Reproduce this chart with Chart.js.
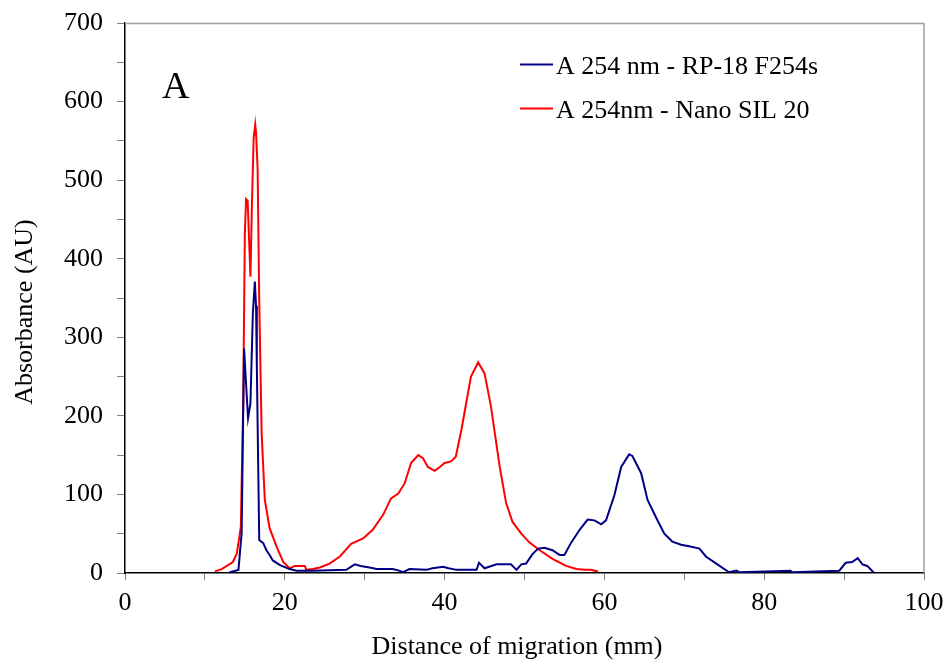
<!DOCTYPE html>
<html>
<head>
<meta charset="utf-8">
<script src="https://cdn.jsdelivr.net/npm/chart.js@4.4.1/dist/chart.umd.min.js"></script>
<style>
html,body{margin:0;padding:0;background:#fff;}
#wrap{width:947px;height:663px;position:relative;}
</style>
</head>
<body>
<div id="wrap"><canvas id="c" width="947" height="663"></canvas></div>
<script>
// ---- data ----
const seriesLabels = ['A 254 nm - RP-18 F254s', 'A 254nm - Nano SIL 20'];
const seriesColors = ['#000085', '#ff0000'];

const blueX = [13.1,14.2,14.6,14.9,15.4,15.7,16.0,16.25,16.4,16.5,16.8,17.3,17.7,18.1,18.5,19.4,20.6,21.5,23.5,27.7,28.75,29.5,30.6,31.5,33.5,34.3,34.8,35.6,37.7,38.5,39.8,40.5,41.5,44,44.3,45,46.5,48.3,49,49.6,50.2,51,51.7,52.5,53.5,54.4,55,55.8,56.9,57.9,58.75,59.6,60.2,61.25,62.1,63.1,63.5,64.6,65.4,66.5,67.5,68.5,69.6,70.6,71.9,72.7,74,75.6,76.5,76.9,83.3,83.5,89.4,90.2,91,91.7,92.3,92.9,93.75];
const blueY = [1,4,51,286,197,216,330,371,340,263,42,38,29,23,16,10,5,3,3,4,11,9,7,5,5,3,1,5,4,6,8,6,4,4,13,6,11,11,4,11,12,24,31,32,29,23,23,38,55,68,67,62,67,99,135,151,149,127,93,70,50,40,36,34,31,21,12,1,3,1,3,1,3,13,14,19,11,9,0];

const redX = [11.25,12.1,12.9,13.5,14.0,14.5,14.8,15.0,15.15,15.35,15.7,15.9,16.1,16.3,16.4,16.6,16.8,17.1,17.5,18.1,19.0,19.8,20.6,21.25,22.5,22.7,23.5,24.4,25.6,26.9,28.3,29.8,31.0,32.3,33.3,34.2,35.0,35.8,36.7,37.3,37.9,38.75,39.4,40.0,40.8,41.4,42.1,42.7,43.3,44.2,45.0,45.8,46.9,47.7,48.5,49.6,50.6,51.9,53.5,55.2,56.5,57.5,58.3,59.2];
const redY = [2,5,10,14,25,59,220,432,476,474,377,475,553,571,561,514,347,178,93,57,33,14,6,9,9,4,5,7,12,21,37,44,55,74,95,101,114,140,150,146,135,130,135,140,142,148,182,216,250,268,254,212,135,89,65,50,39,29,18,9,5,4,4,2];

const xTickLabels = ['0','20','40','60','80','100'];
const yTickLabels = ['0','100','200','300','400','500','600','700'];
const xTitle = 'Distance of migration (mm)';
const yTitle = 'Absorbance (AU)';
const panelLabel = 'A';

// ---- chart ----
const FONT = "'Liberation Serif', 'Times New Roman', serif";
const toPts = (xs, ys) => xs.map((x, i) => ({x: x, y: ys[i]}));

const overlay = {
  id: 'overlay',
  afterDraw(chart) {
    const ctx = chart.ctx, ca = chart.chartArea;
    ctx.save();
    // top & right frame
    ctx.strokeStyle = '#a0a0a0';
    ctx.lineWidth = 1.5;
    ctx.beginPath();
    ctx.moveTo(ca.left, ca.top + 0.5);
    ctx.lineTo(ca.right, ca.top + 0.5);
    ctx.lineTo(ca.right, ca.bottom);
    ctx.stroke();
    // legend
    ctx.font = '26px ' + FONT;
    ctx.textAlign = 'left';
    ctx.textBaseline = 'alphabetic';
    chart.data.datasets.forEach((ds, i) => {
      const ly = 64.5 + i * 44;
      ctx.strokeStyle = ds.borderColor;
      ctx.lineWidth = 2;
      ctx.beginPath();
      ctx.moveTo(520, ly);
      ctx.lineTo(553, ly);
      ctx.stroke();
      ctx.fillStyle = '#000';
      ctx.fillText(ds.label, 556, ly + 9);
    });
    // panel label
    ctx.font = '38px ' + FONT;
    ctx.fillText(panelLabel, 162, 97.5);
    // axis titles
    ctx.font = '26px ' + FONT;
    ctx.textAlign = 'center';
    ctx.textBaseline = 'middle';
    ctx.fillText(xTitle, 517, 647);
    ctx.translate(25, 312);
    ctx.rotate(-Math.PI / 2);
    ctx.fillText(yTitle, 0, 0);
    ctx.restore();
  }
};

new Chart(document.getElementById('c'), {
  type: 'scatter',
  data: {
    datasets: [
      {label: seriesLabels[0], data: toPts(blueX, blueY), showLine: true, borderColor: seriesColors[0], backgroundColor: seriesColors[0], borderWidth: 2, pointRadius: 0, tension: 0},
      {label: seriesLabels[1], data: toPts(redX, redY), showLine: true, borderColor: seriesColors[1], backgroundColor: seriesColors[1], borderWidth: 2, pointRadius: 0, tension: 0}
    ]
  },
  options: {
    responsive: false,
    animation: false,
    devicePixelRatio: 1,
    layout: {padding: {top: 23, right: 23, left: 0, bottom: 0}},
    plugins: {legend: {display: false}, tooltip: {enabled: false}},
    scales: {
      x: {
        type: 'linear', min: 0, max: 100,
        afterFit(s) { s.height = 90; s.paddingLeft = 0; s.paddingRight = 0; },
        ticks: {
          stepSize: 10, autoSkip: false, maxRotation: 0, padding: 8, color: '#000',
          font: {family: FONT, size: 26},
          callback: (v) => (v % 20 === 0 ? xTickLabels[v / 20] : '')
        },
        grid: {drawOnChartArea: false, drawTicks: true, tickLength: 7, tickColor: '#808080'},
        border: {color: '#000', width: 1.5}
      },
      y: {
        type: 'linear', min: 0, max: 700,
        afterFit(s) { s.width = 125; s.paddingTop = 0; s.paddingBottom = 0; },
        ticks: {
          stepSize: 50, autoSkip: false, padding: 14, color: '#000',
          font: {family: FONT, size: 26},
          callback: (v) => (v % 100 === 0 ? yTickLabels[v / 100] : '')
        },
        grid: {drawOnChartArea: false, drawTicks: true, tickLength: 8, tickColor: '#808080'},
        border: {color: '#000', width: 1.5}
      }
    }
  },
  plugins: [overlay]
});
</script>
</body>
</html>
